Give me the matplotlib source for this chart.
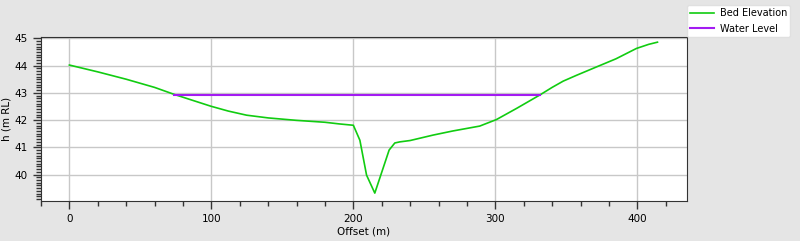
import matplotlib
matplotlib.use('Agg')
import matplotlib.pyplot as plt
from matplotlib.ticker import MultipleLocator

# ################## Data
# bed profile: offset (m) and elevation (m RL)
bedOffset = [0, 20, 40, 60, 74, 99.6, 112, 124.8, 140, 160, 180, 190, 200,
             204.6, 209.3, 215.1, 225.2, 229.2, 232.7, 240, 256.2, 270, 289,
             300.8, 315, 331.3, 340, 347.8, 357, 368.9, 385, 399.4, 408, 414.2]
bedLevel = [44.02, 43.77, 43.5, 43.2, 42.94, 42.51, 42.33, 42.18, 42.08, 41.99,
            41.92, 41.86, 41.81, 41.26, 39.98, 39.32, 40.9, 41.16, 41.2, 41.25,
            41.45, 41.6, 41.78, 42.02, 42.43, 42.92, 43.2, 43.43, 43.64, 43.9,
            44.25, 44.63, 44.78, 44.86]
# water surface
waterOffset = [73.6, 331.3]
waterLevel = [42.92, 42.92]

# ################## Plot
fig = plt.figure(figsize=(8, 2.41), dpi=100, facecolor='#e5e5e5')
ax = fig.add_axes([41 / 800, 40 / 241, 646 / 800, 164 / 241])

ax.plot(bedOffset, bedLevel, color='#11cc11', lw=1.2, label='Bed Elevation')
ax.plot(waterOffset, waterLevel, color='#a31cf2', lw=1.5, label='Water Level')

ax.set_xlim(-20, 435)
ax.set_ylim(39.03, 45.05)
ax.xaxis.set_major_locator(MultipleLocator(100))
ax.xaxis.set_minor_locator(MultipleLocator(20))
ax.yaxis.set_major_locator(MultipleLocator(1))
ax.yaxis.set_minor_locator(MultipleLocator(0.1))
ax.tick_params(which='major', length=6, width=1, labelsize=7.5, color='#333333')
ax.tick_params(which='minor', length=3.5, width=1, color='#333333')
ax.grid(which='major', color='#c8c8c8', lw=1)
ax.set_axisbelow(True)
for s in ax.spines.values():
    s.set_color('#333333')

ax.set_xlabel('Offset (m)', fontsize=7.5, labelpad=2)
ax.set_ylabel('h (m RL)', fontsize=7.5, labelpad=2)

fig.legend(loc='upper left', bbox_to_anchor=(687 / 800, 1 - 5 / 241), fontsize=7,
           frameon=True, framealpha=1, edgecolor='#e0e0e0', borderpad=0.35,
           handlelength=2.4, handletextpad=0.6, labelspacing=0.55,
           borderaxespad=0)

fig.savefig('out.png', dpi=100, facecolor=fig.get_facecolor())
